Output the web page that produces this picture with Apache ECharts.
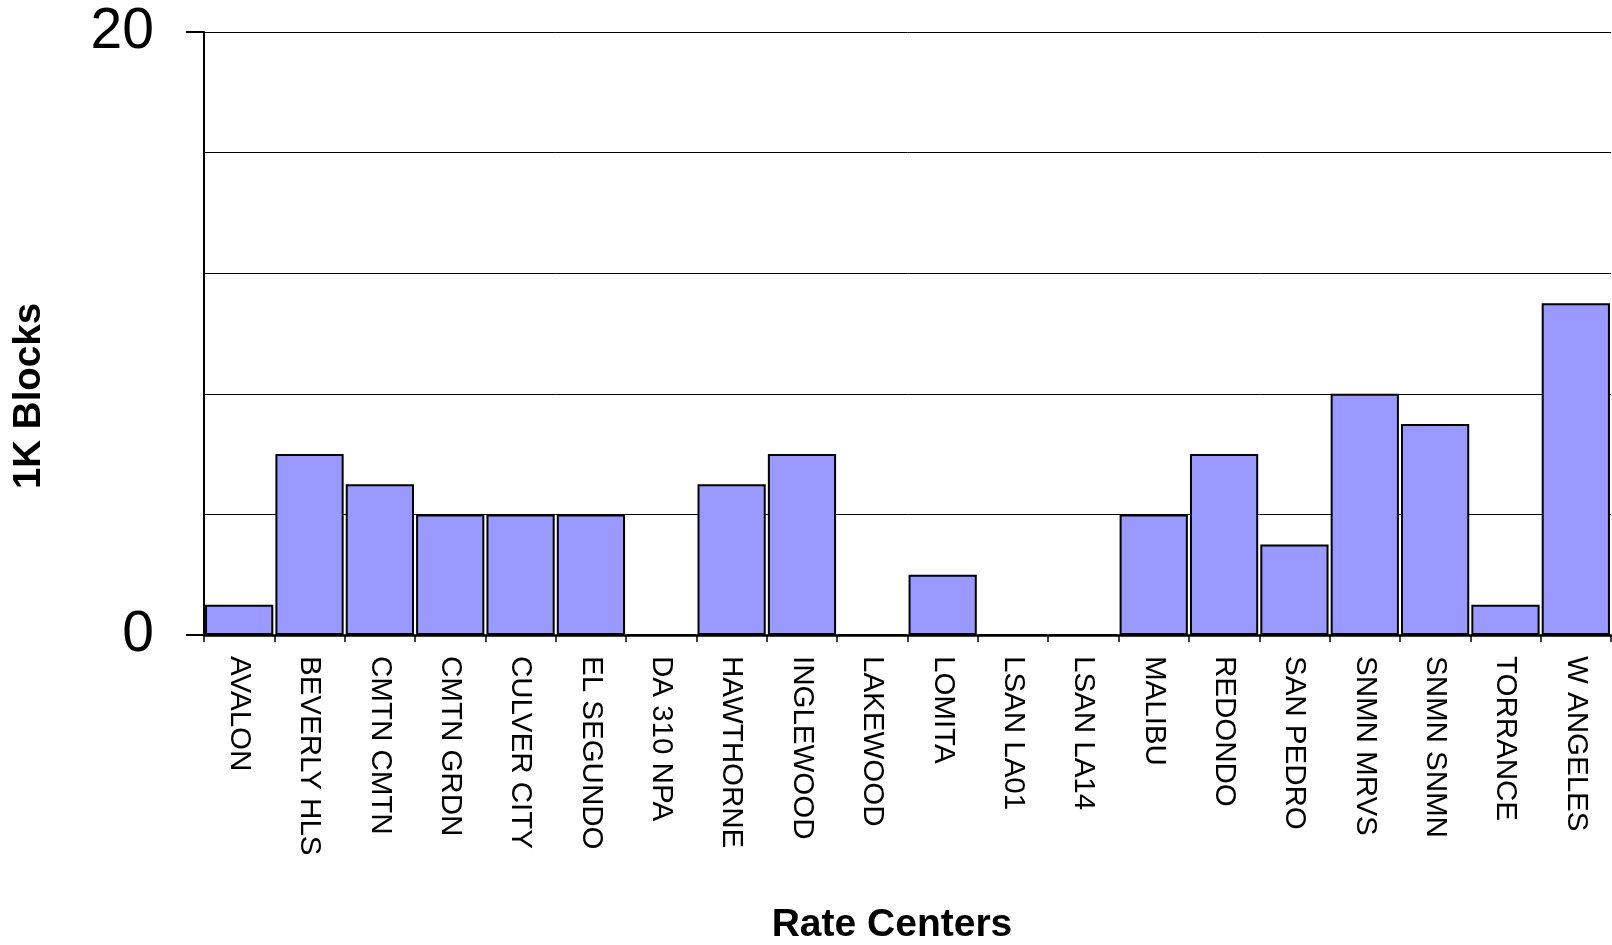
<!DOCTYPE html>
<html>
<head>
<meta charset="utf-8">
<title>1K Blocks by Rate Center</title>
<script src="https://cdn.jsdelivr.net/npm/echarts@6/dist/echarts.min.js"></script>
<style>
  html, body { margin: 0; padding: 0; background: #ffffff; }
  #chart { width: 1612px; height: 945px; }
</style>
</head>
<body>
<div id="chart"></div>
<script>
// Rate centers along the category axis
const rateCenters = [
  'AVALON', 'BEVERLY HLS', 'CMTN CMTN', 'CMTN GRDN', 'CULVER CITY',
  'EL SEGUNDO', 'DA 310 NPA', 'HAWTHORNE', 'INGLEWOOD', 'LAKEWOOD',
  'LOMITA', 'LSAN LA01', 'LSAN LA14', 'MALIBU', 'REDONDO',
  'SAN PEDRO', 'SNMN MRVS', 'SNMN SNMN', 'TORRANCE', 'W ANGELES'
];

// Number of 1K blocks per rate center
const blockCounts = [1, 6, 5, 4, 4, 4, 0, 5, 6, 0, 2, 0, 0, 4, 6, 3, 8, 7, 1, 11];

// Value axis settings
const yMin = 0;
const yMax = 20;
const gridStep = 4;
const labelStep = 20;

const FONT = '"Liberation Sans", Arial, sans-serif';

const chart = echarts.init(document.getElementById('chart'), null, { renderer: 'canvas' });

chart.setOption({
  backgroundColor: '#ffffff',
  animation: false,
  grid: { left: 204, right: 1, top: 32, bottom: 310, containLabel: false },
  xAxis: {
    type: 'category',
    data: rateCenters,
    boundaryGap: true,
    axisLine: { show: true, lineStyle: { color: '#000', width: 2.5 } },
    axisTick: { show: true, length: 7, lineStyle: { color: '#000', width: 1.5 } },
    axisLabel: {
      interval: 0,
      rotate: -90,
      margin: 21,
      fontFamily: FONT,
      fontSize: 29.5,
      color: '#000'
    },
    splitLine: { show: false }
  },
  yAxis: [
    {
      // gridlines every 4 blocks
      type: 'value',
      min: yMin,
      max: yMax,
      interval: gridStep,
      position: 'left',
      axisLine: { show: false },
      axisTick: { show: false },
      axisLabel: { show: false },
      splitLine: { show: true, lineStyle: { color: '#000', width: 1 } }
    },
    {
      // labelled ends of the value axis
      type: 'value',
      min: yMin,
      max: yMax,
      interval: labelStep,
      position: 'left',
      axisLine: { show: true, lineStyle: { color: '#000', width: 2 } },
      axisTick: { show: true, length: 18, lineStyle: { color: '#000', width: 2 } },
      axisLabel: {
        margin: 50,
        fontFamily: FONT,
        fontSize: 57,
        color: '#000'
      },
      splitLine: { show: false }
    }
  ],
  series: [
    {
      type: 'bar',
      data: blockCounts,
      yAxisIndex: 0,
      barCategoryGap: '3%',
      itemStyle: {
        color: '#9999FF',
        borderColor: '#000',
        borderWidth: 2
      }
    }
  ],
  graphic: [
    {
      type: 'text',
      x: 892,
      y: 925,
      style: {
        text: 'Rate Centers',
        fontFamily: FONT,
        fontSize: 39,
        fontWeight: 'bold',
        fill: '#000',
        textAlign: 'center',
        textVerticalAlign: 'middle'
      }
    },
    {
      type: 'text',
      x: 29,
      y: 396,
      rotation: Math.PI / 2,
      style: {
        text: '1K Blocks',
        fontFamily: FONT,
        fontSize: 38.5,
        fontWeight: 'bold',
        fill: '#000',
        textAlign: 'center',
        textVerticalAlign: 'middle'
      }
    }
  ]
});
</script>
</body>
</html>
